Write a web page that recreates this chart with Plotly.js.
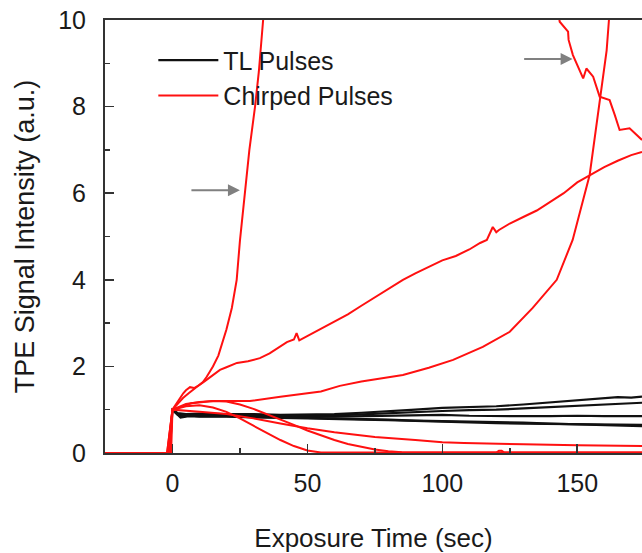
<!DOCTYPE html>
<html>
<head>
<meta charset="utf-8">
<script src="https://cdn.plot.ly/plotly-3.0.1.min.js"></script>
<style>html,body{margin:0;padding:0;background:#fff;}#chart{width:642px;height:553px;}</style>
</head>
<body>
<div id="chart"></div>
<script>
// ---- TL pulses (black) ----
const tB1 = [-25, -1, 0, 2, 5, 10, 20, 30, 40, 50, 60, 70, 80, 90, 100, 110, 120, 130, 140, 150, 155, 160, 165, 170, 174];
const yB1 = [0, 0, 1.0, 0.92, 0.9, 0.91, 0.9, 0.9, 0.88, 0.89, 0.9, 0.93, 0.96, 1.0, 1.04, 1.06, 1.08, 1.12, 1.17, 1.21, 1.25, 1.26, 1.29, 1.28, 1.30];
const tB2 = [0, 2, 5, 10, 20, 30, 40, 50, 60, 70, 80, 90, 100, 110, 120, 130, 140, 150, 160, 170, 174];
const yB2 = [1.0, 0.9, 0.88, 0.89, 0.87, 0.87, 0.86, 0.86, 0.87, 0.89, 0.92, 0.95, 0.97, 0.99, 1.0, 1.03, 1.06, 1.09, 1.12, 1.14, 1.16];
const tB3 = [0, 2, 5, 10, 20, 30, 40, 50, 60, 70, 80, 90, 100, 110, 120, 130, 140, 150, 160, 170, 174];
const yB3 = [1.0, 0.88, 0.87, 0.88, 0.86, 0.86, 0.85, 0.85, 0.84, 0.85, 0.86, 0.87, 0.88, 0.86, 0.85, 0.85, 0.85, 0.86, 0.85, 0.85, 0.85];
const tB4 = [0, 3, 6, 10, 20, 30, 40, 50, 60, 70, 80, 90, 100, 110, 120, 130, 140, 150, 160, 170, 174];
const yB4 = [1.0, 0.84, 0.86, 0.85, 0.85, 0.83, 0.82, 0.81, 0.8, 0.78, 0.77, 0.75, 0.74, 0.72, 0.71, 0.7, 0.68, 0.66, 0.64, 0.63, 0.62];
const tB5 = [0, 3, 6, 10, 20, 30, 40, 50, 60, 70, 80, 90, 100, 110, 120, 130, 140, 150, 160, 170, 174];
const yB5 = [1.0, 0.82, 0.85, 0.84, 0.84, 0.82, 0.81, 0.8, 0.78, 0.77, 0.76, 0.74, 0.73, 0.71, 0.69, 0.68, 0.67, 0.66, 0.66, 0.65, 0.65];

// ---- Chirped pulses (red) ----
const tR1 = [-25, -2, 0, 2, 3.9, 6, 8, 11.3, 12.7, 15, 17, 18.7, 20, 22, 23.8, 25, 26.8, 28.5, 30.6, 32, 33.6, 35, 60, 120, 141, 143.5, 146.6, 146.8, 148.4, 150.3, 152.2, 153.4, 155.9, 158.3, 162, 163.9, 165.7, 169.4, 174];
const yR1 = [0, 0, 1.0, 1.15, 1.27, 1.38, 1.48, 1.64, 1.76, 2.0, 2.25, 2.6, 2.85, 3.35, 4.0, 4.9, 6.07, 7.0, 8.0, 8.8, 10.0, 11.0, 14, 14, 11.0, 9.96, 9.73, 9.54, 9.19, 8.92, 8.65, 8.88, 8.69, 8.23, 8.15, 7.81, 7.46, 7.5, 7.23];
const tR2 = [-25, -1.5, 0, 2, 4, 5, 6.5, 8, 10, 12, 15, 17.6, 20, 23.9, 28, 32.4, 36, 40, 42.4, 45, 46, 47, 50, 54.6, 60, 65, 70, 75, 80, 85.4, 90, 95, 100, 105, 110, 114, 116.5, 118.7, 120, 121, 125, 130, 135, 141, 145, 150, 154.6, 160, 165, 170, 174];
const yR2 = [0, 0, 1.0, 1.2, 1.38, 1.45, 1.52, 1.5, 1.57, 1.66, 1.8, 1.92, 1.98, 2.08, 2.12, 2.19, 2.3, 2.45, 2.56, 2.62, 2.77, 2.6, 2.7, 2.84, 3.02, 3.2, 3.4, 3.6, 3.8, 4.0, 4.15, 4.3, 4.45, 4.55, 4.7, 4.85, 4.92, 5.22, 5.1, 5.15, 5.3, 5.45, 5.6, 5.84, 6.0, 6.25, 6.42, 6.6, 6.75, 6.88, 6.95];
const tR3 = [-25, -1, 0, 7, 15, 25, 28.7, 40, 55, 62, 70, 85.4, 95, 104, 115, 125, 133.5, 142.4, 148.3, 154.6, 158.3, 160.9, 161.7, 163];
const yR3 = [0, 0, 1.0, 1.15, 1.2, 1.2, 1.2, 1.3, 1.42, 1.55, 1.65, 1.8, 1.97, 2.15, 2.45, 2.8, 3.35, 4.0, 4.92, 6.42, 8.15, 9.3, 9.96, 11];
const tR4 = [-25, -2, 0, 5, 10, 15, 20, 25, 30, 35, 40, 45, 50, 55, 60, 65, 70, 75, 80, 85, 95, 174];
const yR4 = [0, 0, 1.0, 1.13, 1.18, 1.2, 1.19, 1.12, 1.02, 0.9, 0.78, 0.65, 0.52, 0.41, 0.3, 0.21, 0.14, 0.08, 0.04, 0.02, 0.01, 0.01];
const tR5 = [-25, -0.5, 0, 5, 10, 20, 30, 40, 50, 60, 75, 90, 100, 108, 120, 130, 150, 174];
const yR5 = [0, 0, 1.0, 0.98, 0.95, 0.9, 0.8, 0.68, 0.57, 0.48, 0.37, 0.3, 0.25, 0.23, 0.21, 0.2, 0.18, 0.16];
const tR6 = [-25, -1.8, 0, 5, 10, 15, 20, 25, 30, 35, 40, 45, 50, 55, 60, 120, 121, 122, 123, 174];
const yR6 = [0, 0, 1.0, 1.08, 1.1, 1.05, 0.95, 0.8, 0.63, 0.46, 0.3, 0.16, 0.06, 0.01, 0.01, 0.01, 0.05, 0.05, 0.01, 0.01];

const blackSeries = [[tB1, yB1], [tB2, yB2], [tB3, yB3], [tB4, yB4], [tB5, yB5]];
const redSeries = [[tR1, yR1], [tR2, yR2], [tR3, yR3], [tR4, yR4], [tR5, yR5], [tR6, yR6]];

const legendNames = ["TL Pulses", "Chirped Pulses"];
const xTickVals = [0, 50, 100, 150];
const yTickVals = [0, 2, 4, 6, 8, 10];

const FONT = "Liberation Sans, Arial, sans-serif";
const traces = [];
blackSeries.forEach((s, i) => traces.push({
  x: s[0], y: s[1], type: "scatter", mode: "lines",
  line: {color: "#111111", width: 2.2},
  name: legendNames[0], legendgroup: "tl", showlegend: i === 0
}));
redSeries.forEach((s, i) => traces.push({
  x: s[0], y: s[1], type: "scatter", mode: "lines",
  line: {color: "#ff1010", width: 2},
  name: legendNames[1], legendgroup: "ch", showlegend: i === 0
}));

const layout = {
  width: 642, height: 553,
  margin: {l: 105, r: 0, t: 20, b: 100},
  paper_bgcolor: "#ffffff", plot_bgcolor: "#ffffff",
  font: {family: FONT, size: 25, color: "#1a1a1a"},
  showlegend: true,
  legend: {x: 0.09, y: 0.96, xanchor: "left", yanchor: "top",
           bgcolor: "rgba(0,0,0,0)", font: {size: 25, family: FONT, color: "#1a1a1a"},
           itemwidth: 60, tracegroupgap: 0},
  xaxis: {
    range: [-25, 174], showgrid: false, zeroline: false,
    showline: true, linecolor: "#333333", linewidth: 2, mirror: true,
    ticks: "inside", ticklen: 9, tickwidth: 1.5, tickcolor: "#333333",
    tickvals: xTickVals, ticklabelstandoff: 7,
    tickfont: {size: 25, family: FONT, color: "#1a1a1a"},
    minor: {dtick: 25, tick0: 25, ticks: "inside", ticklen: 5, tickwidth: 1.5, tickcolor: "#333333", showgrid: false},
    title: {text: "Exposure Time (sec)", font: {size: 26, family: FONT, color: "#1a1a1a"}, standoff: 33}
  },
  yaxis: {
    range: [0, 10], showgrid: false, zeroline: false,
    showline: true, linecolor: "#333333", linewidth: 2,
    ticks: "inside", ticklen: 9, tickwidth: 1.5, tickcolor: "#333333",
    tickvals: yTickVals, ticklabelstandoff: 12,
    tickfont: {size: 25, family: FONT, color: "#1a1a1a"},
    minor: {dtick: 1, tick0: 1, ticks: "inside", ticklen: 5, tickwidth: 1.5, tickcolor: "#333333", showgrid: false},
    title: {text: "TPE Signal Intensity (a.u.)", font: {size: 27, family: FONT, color: "#1a1a1a"}, standoff: 16}
  },
  annotations: [
    {x: 25, y: 6.07, xref: "x", yref: "y", ax: -50, ay: 0, showarrow: true, text: "",
     arrowcolor: "#808080", arrowwidth: 2, arrowhead: 2, arrowsize: 1.2},
    {x: 148.3, y: 9.1, xref: "x", yref: "y", ax: -50, ay: 0, showarrow: true, text: "",
     arrowcolor: "#808080", arrowwidth: 2, arrowhead: 2, arrowsize: 1.2}
  ]
};

Plotly.newPlot("chart", traces, layout, {displayModeBar: false, staticPlot: true});
</script>
</body>
</html>
